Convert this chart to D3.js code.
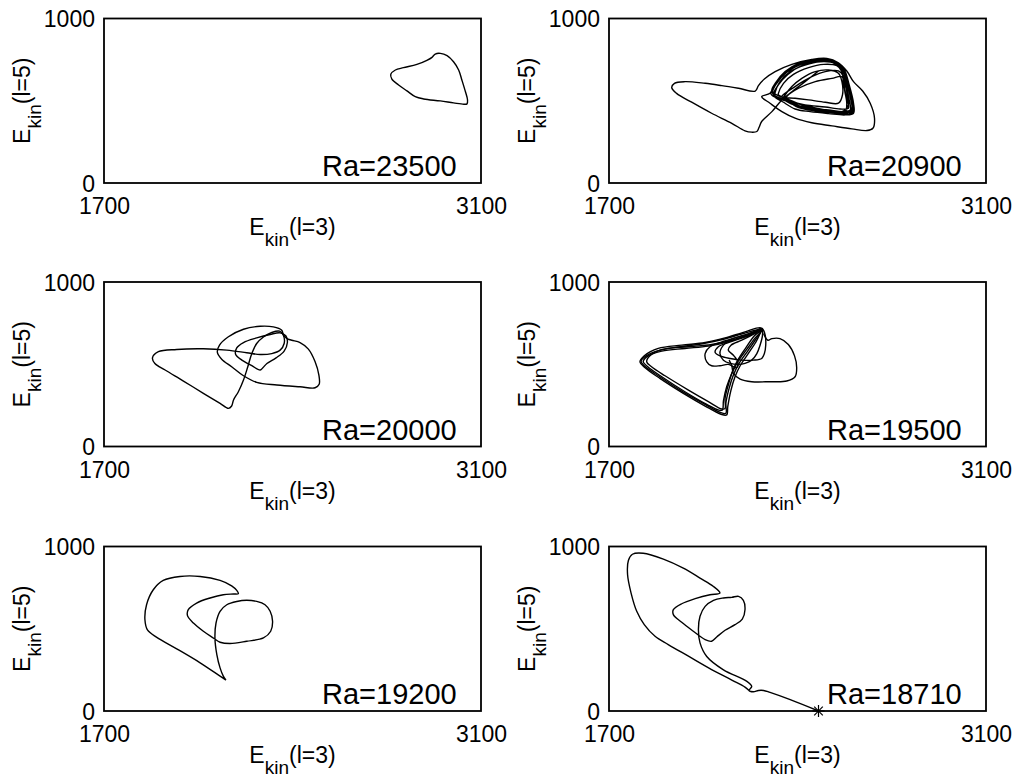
<!DOCTYPE html>
<html>
<head>
<meta charset="utf-8">
<script src="https://cdn.jsdelivr.net/npm/d3@7"></script>
<style>
    body { margin: 0; background: #fff; }
    text { font-family: "Liberation Sans", Arial, Helvetica, sans-serif; fill: #000; }
</style>
</head>
<body>
<svg id="fig" width="1015" height="778"></svg>
<script>
// axis ranges and tick labels (same for every panel)
const xTicks = [1700, 3100];
const yTicks = [0, 1000];
const raLabels = ['Ra=23500', 'Ra=20900', 'Ra=20000', 'Ra=19500', 'Ra=19200', 'Ra=18710'];

// Ra=23500: single limit cycle
const ra23500 = [[2930,784],[2949,788],[2974,774],[2998,737],[3017,687],[3029,626],[3042,556],[3050,505],
    [3048,481],[3036,479],[2998,487],[2949,499],[2887,511],[2856,525],[2825,560],[2794,596],[2769,632],
    [2765,661],[2782,687],[2812,701],[2862,721],[2899,746],[2918,764]];

// Ra=20900: transient then many turns around the attractor
const ra20900Transient = [[2478,681],[2428,616],[2379,555],[2342,505],[2305,434],[2267,374],[2257,337],[2249,313],
    [2230,309],[2205,317],[2156,363],[2081,424],[2007,491],[1951,545],[1933,580],[1943,606],[1982,616],[2057,606],
    [2119,592],[2181,576],[2243,559]];
const ra20900Outer = [[2255,592],[2277,632],[2317,677],[2379,721],[2453,751],[2509,757],[2552,731],[2583,681],
    [2608,616],[2642,559],[2670,485],[2686,394],[2680,333],[2658,319],[2602,329],[2528,347],[2453,366],[2391,394],
    [2342,434],[2298,485],[2267,525]];
const ra20900Loops = [
    [[2298,545],[2317,606],[2354,677],[2404,727],[2466,751],[2515,743],[2565,701],[2583,626],[2599,525],[2604,434],[2583,418],[2528,428],[2453,444],[2404,458],[2360,499],[2317,525]],
    [[2317,551],[2335,616],[2373,677],[2428,717],[2484,737],[2540,727],[2567,687],[2580,606],[2592,505],[2596,444],[2571,434],[2515,444],[2441,458],[2397,475],[2360,511],[2329,535]],
    [[2329,545],[2348,606],[2385,660],[2441,701],[2497,721],[2546,713],[2565,677],[2571,596],[2587,495],[2589,454],[2558,450],[2503,462],[2428,475],[2385,491],[2348,519]],
    [[2354,535],[2379,586],[2416,636],[2466,677],[2515,687],[2552,667],[2565,616],[2567,535],[2552,485],[2503,491],[2441,505],[2391,515]],
    [[2342,525],[2391,586],[2453,646],[2503,677],[2552,681],[2571,646],[2575,565],[2583,485],[2577,434],[2540,434],[2478,450],[2422,471],[2379,499]],
    [[2305,559],[2327,626],[2366,687],[2422,733],[2478,753],[2534,741],[2571,697],[2592,596],[2608,485],[2608,424],[2577,414],[2515,422],[2447,434],[2391,450],[2348,491]],
    [[2311,535],[2329,596],[2364,660],[2416,713],[2472,737],[2528,733],[2562,697],[2587,606],[2602,499],[2599,438],[2567,424],[2509,434],[2443,450],[2397,469],[2354,505]],
    [[2360,525],[2404,576],[2466,616],[2528,636],[2565,646],[2583,555],[2589,475],[2565,434],[2503,444],[2428,471]],
    [[2302,539],[2320,600],[2357,671],[2410,723],[2469,745],[2521,739],[2567,697],[2587,616],[2603,515],[2607,430],[2580,420],[2521,430],[2451,442],[2401,462],[2357,503],[2314,531]],
    [[2307,549],[2324,610],[2360,673],[2413,721],[2474,743],[2525,737],[2565,693],[2584,606],[2598,505],[2602,440],[2575,428],[2518,436],[2446,452],[2399,471],[2354,509]]
];

// Ra=20000: period-3 like orbit
const ra20000A = [[2280,559],[2230,570],[2156,586],[2069,594],[1970,590],[1902,576],[1880,539],[1889,505],[1927,465],
    [1995,398],[2069,323],[2131,262],[2162,232],[2174,246],[2181,283],[2199,333],[2218,404],[2234,485],[2249,565],
    [2267,626],[2292,666],[2323,693],[2352,701],[2366,677],[2369,626],[2354,586],[2323,565]];
const ra20000B = [[2280,465],[2249,491],[2212,525],[2189,559],[2193,600],[2218,632],[2267,660],[2317,681],[2354,691],
    [2375,673],[2381,632],[2369,580],[2339,539],[2305,505],[2290,479]];
const ra20000C = [[2360,707],[2329,727],[2280,731],[2218,713],[2162,667],[2129,616],[2121,572],[2137,531],[2174,485],
    [2218,430],[2267,390],[2342,374],[2428,363],[2484,357],[2499,378],[2498,434],[2484,515],[2459,592],[2428,632],
    [2397,646],[2379,656],[2366,680]];

// Ra=19500: chaotic orbit
const ra19500Loops = [
    [[2270,717],[2218,681],[2156,646],[2081,620],[1995,606],[1908,592],[1846,559],[1819,519],[1831,491],[1883,430],[1970,337],[2057,256],[2112,208],[2134,202],[2134,262],[2146,353],[2162,434],[2183,505],[2215,580],[2245,652]],
    [[2267,707],[2212,673],[2143,636],[2069,610],[1982,596],[1896,580],[1840,545],[1827,515],[1844,485],[1896,424],[1982,333],[2063,256],[2106,222],[2121,222],[2125,277],[2137,363],[2156,444],[2178,515],[2212,592],[2243,660]],
    [[2265,721],[2205,697],[2131,660],[2057,632],[1970,616],[1883,596],[1831,551],[1815,515],[1834,479],[1889,414],[1976,323],[2057,246],[2116,196],[2137,192],[2141,242],[2153,343],[2168,424],[2187,491],[2220,572],[2249,646]],
    [[2267,713],[2199,687],[2125,652],[2051,626],[1964,606],[1889,586],[1852,551],[1840,515],[1858,485],[1908,430],[1995,343],[2069,273],[2119,228],[2131,232],[2131,293],[2143,374],[2158,454],[2178,525],[2208,600],[2240,673]],
    [[2267,713],[2230,693],[2181,666],[2119,636],[2075,606],[2057,565],[2063,515],[2081,491],[2112,491],[2143,499],[2174,479],[2178,515],[2162,555],[2143,586],[2153,616],[2193,646],[2243,687],[2270,713],[2280,677],[2282,616],[2277,565],[2267,535],[2236,525],[2193,525],[2150,535],[2112,551],[2094,572],[2106,606],[2143,632],[2205,666]],
    [[2267,717],[2230,687],[2193,673],[2156,652],[2125,616],[2112,565],[2125,525],[2150,505],[2181,499],[2205,505],[2230,525],[2249,565],[2261,616],[2270,677]]
];
const ra19500Tail = [[2274,687],[2290,646],[2305,656],[2335,656],[2366,620],[2389,551],[2397,479],[2391,424],[2360,398],
    [2298,394],[2230,394],[2187,410],[2162,444],[2156,491],[2146,525]];

// Ra=19200: periodic orbit
const ra19200 = [[2153,188],[2131,212],[2057,293],[1970,378],[1896,448],[1862,491],[1852,555],[1858,646],[1883,737],
    [1920,794],[1982,818],[2057,818],[2131,794],[2174,761],[2193,733],[2199,713],[2181,711],[2143,707],[2094,687],
    [2044,656],[2013,616],[2010,580],[2032,535],[2069,485],[2106,444],[2131,418],[2168,410],[2230,424],[2292,444],
    [2319,485],[2326,545],[2317,606],[2298,646],[2267,666],[2230,673],[2193,666],[2156,646],[2131,606],[2116,535],
    [2112,444],[2119,343],[2131,262],[2143,212],[2153,188]];

// Ra=18710: orbit leaving the fixed point (*)
const ra18710Fixed = [2478, 0];
const ra18710 = [[2478,0],[2373,69],[2298,113],[2274,125],[2255,125],[2236,117],[2220,125],[2230,149],[2212,180],
    [2125,250],[2063,331],[2038,414],[2032,495],[2038,576],[2057,636],[2088,673],[2125,687],[2156,691],[2181,697],
    [2199,673],[2205,616],[2195,559],[2168,525],[2131,491],[2100,450],[2081,424],[2057,434],[2013,485],[1970,539],
    [1939,586],[1939,616],[1970,652],[2020,683],[2075,707],[2112,717],[2088,757],[2038,808],[1976,868],[1902,923],
    [1827,959],[1787,953],[1772,915],[1769,828],[1782,717],[1803,606],[1831,525],[1871,454],[1920,404],[1995,333],
    [2081,252],[2156,188],[2205,145],[2220,125]];

const panels = [
    {open: [], closed: [ra23500]},
    {open: [[].concat(ra20900Transient, ra20900Outer, ...ra20900Loops)], closed: []},
    {open: [], closed: [ra20000A, ra20000B, ra20000C]},
    {open: [ra19500Tail], closed: ra19500Loops},
    {open: [ra19200], closed: []},
    {open: [ra18710], closed: [], fixed: ra18710Fixed}
];

// layout
const W = 377, H = 164.5;
const colX = [104, 609], rowY = [18.5, 282, 546.5];

const svg = d3.select('#fig');
const x = d3.scaleLinear().domain([1700, 3100]).range([0, W]);
const y = d3.scaleLinear().domain([0, 1000]).range([H, 0]);

const openLine = d3.line().x(d => x(d[0])).y(d => y(d[1])).curve(d3.curveCatmullRom.alpha(0.5));
const closedLine = d3.line().x(d => x(d[0])).y(d => y(d[1])).curve(d3.curveCatmullRomClosed.alpha(0.5));

// E_kin(l=n) label with a subscript
function ekinLabel(sel, n) {
    sel.append('tspan').text('E');
    sel.append('tspan').attr('font-size', 19).attr('dy', 11).text('kin');
    sel.append('tspan').attr('dy', -11).text(`(l=${n})`);
}

panels.forEach((p, i) => {
    const g = svg.append('g')
        .attr('transform', `translate(${colX[i % 2]},${rowY[Math.floor(i / 2)]})`);

    p.closed.forEach(seg => g.append('path').attr('d', closedLine(seg))
        .attr('fill', 'none').attr('stroke', '#000').attr('stroke-width', 1.4));
    p.open.forEach(seg => g.append('path').attr('d', openLine(seg))
        .attr('fill', 'none').attr('stroke', '#000').attr('stroke-width', 1.4));

    g.append('rect')
        .attr('width', W).attr('height', H)
        .attr('fill', 'none').attr('stroke', '#000').attr('stroke-width', 1.8);

    if (p.fixed) {
        const s = g.append('g').attr('transform', `translate(${x(p.fixed[0])},${y(p.fixed[1])})`)
            .attr('stroke', '#000').attr('stroke-width', 1.2);
        s.append('line').attr('x1', -6).attr('x2', 6);
        s.append('line').attr('y1', -6).attr('y2', 6);
        s.append('line').attr('x1', -4.3).attr('y1', -4.3).attr('x2', 4.3).attr('y2', 4.3);
        s.append('line').attr('x1', -4.3).attr('y1', 4.3).attr('x2', 4.3).attr('y2', -4.3);
    }

    const xAxis = g.append('g').attr('transform', `translate(0,${H})`)
        .call(d3.axisBottom(x).tickValues(xTicks).tickSize(0).tickPadding(15).tickFormat(d3.format('d')));
    const yAxis = g.append('g').attr('transform', 'translate(0,1)')
        .call(d3.axisLeft(y).tickValues(yTicks).tickSize(0).tickPadding(9).tickFormat(d3.format('d')));
    [xAxis, yAxis].forEach(a => {
        a.select('.domain').remove();
        a.selectAll('text').attr('font-size', 23).attr('font-family', null);
    });

    g.append('text')
        .attr('x', W / 2).attr('y', H + 52)
        .attr('text-anchor', 'middle').attr('font-size', 23)
        .call(ekinLabel, 3);
    g.append('text')
        .attr('transform', `translate(-74,${H / 2}) rotate(-90)`)
        .attr('text-anchor', 'middle').attr('font-size', 23)
        .call(ekinLabel, 5);

    g.append('text')
        .attr('x', 218).attr('y', H - 7)
        .attr('font-size', 29)
        .text(raLabels[i]);
});
</script>
</body>
</html>
